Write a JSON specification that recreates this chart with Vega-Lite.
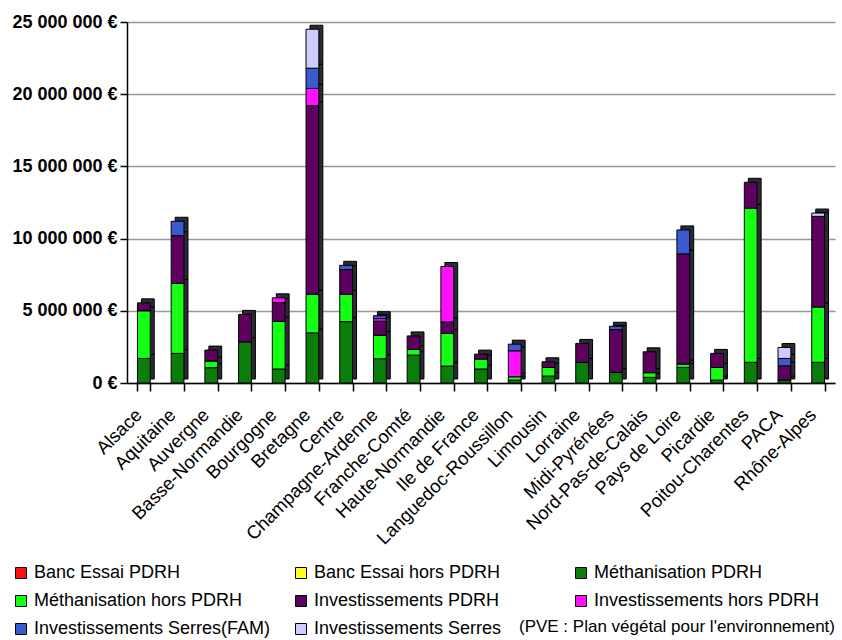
{
  "$schema": "https://vega.github.io/schema/vega-lite/v6.json",
  "autosize": {"type": "none"},
  "width": 708,
  "height": 361,
  "padding": {"left": 127, "top": 22, "right": 7, "bottom": 257},
  "background": "white",
  "config": {
    "view": {"stroke": null},
    "font": "Liberation Sans",
    "locale": {"number": {"decimal": ",", "thousands": " ", "grouping": [3], "currency": ["", " €"]}}
  },
  "title": {
    "text": "(PVE :  Plan végétal pour l'environnement)",
    "orient": "bottom",
    "anchor": "end",
    "frame": "group",
    "offset": -19,
    "fontSize": 17,
    "fontWeight": "normal",
    "font": "Liberation Sans",
    "color": "black"
  },
  "data": {"values": [
    {"region": "Alsace", "type": "Méthanisation PDRH", "value": 1700000},
    {"region": "Alsace", "type": "Méthanisation hors PDRH", "value": 3300000},
    {"region": "Alsace", "type": "Investissements PDRH", "value": 550000},
    {"region": "Aquitaine", "type": "Méthanisation PDRH", "value": 2050000},
    {"region": "Aquitaine", "type": "Méthanisation hors PDRH", "value": 4850000},
    {"region": "Aquitaine", "type": "Investissements PDRH", "value": 3300000},
    {"region": "Aquitaine", "type": "Investissements Serres(FAM)", "value": 1000000},
    {"region": "Auvergne", "type": "Méthanisation PDRH", "value": 1060000},
    {"region": "Auvergne", "type": "Méthanisation hors PDRH", "value": 460000},
    {"region": "Auvergne", "type": "Investissements PDRH", "value": 760000},
    {"region": "Basse-Normandie", "type": "Méthanisation PDRH", "value": 2850000},
    {"region": "Basse-Normandie", "type": "Investissements PDRH", "value": 1900000},
    {"region": "Bourgogne", "type": "Méthanisation PDRH", "value": 970000},
    {"region": "Bourgogne", "type": "Méthanisation hors PDRH", "value": 3300000},
    {"region": "Bourgogne", "type": "Investissements PDRH", "value": 1300000},
    {"region": "Bourgogne", "type": "Investissements hors PDRH", "value": 330000},
    {"region": "Bretagne", "type": "Méthanisation PDRH", "value": 3470000},
    {"region": "Bretagne", "type": "Méthanisation hors PDRH", "value": 2670000},
    {"region": "Bretagne", "type": "Investissements PDRH", "value": 13060000},
    {"region": "Bretagne", "type": "Investissements hors PDRH", "value": 1200000},
    {"region": "Bretagne", "type": "Investissements Serres(FAM)", "value": 1400000},
    {"region": "Bretagne", "type": "Investissements Serres", "value": 2700000},
    {"region": "Centre", "type": "Méthanisation PDRH", "value": 4250000},
    {"region": "Centre", "type": "Méthanisation hors PDRH", "value": 1900000},
    {"region": "Centre", "type": "Investissements PDRH", "value": 1700000},
    {"region": "Centre", "type": "Investissements Serres(FAM)", "value": 300000},
    {"region": "Champagne-Ardenne", "type": "Méthanisation PDRH", "value": 1680000},
    {"region": "Champagne-Ardenne", "type": "Méthanisation hors PDRH", "value": 1630000},
    {"region": "Champagne-Ardenne", "type": "Investissements PDRH", "value": 970000},
    {"region": "Champagne-Ardenne", "type": "Investissements hors PDRH", "value": 180000},
    {"region": "Champagne-Ardenne", "type": "Investissements Serres(FAM)", "value": 200000},
    {"region": "Franche-Comté", "type": "Méthanisation PDRH", "value": 1930000},
    {"region": "Franche-Comté", "type": "Méthanisation hors PDRH", "value": 390000},
    {"region": "Franche-Comté", "type": "Investissements PDRH", "value": 940000},
    {"region": "Haute-Normandie", "type": "Méthanisation PDRH", "value": 1170000},
    {"region": "Haute-Normandie", "type": "Méthanisation hors PDRH", "value": 2260000},
    {"region": "Haute-Normandie", "type": "Investissements PDRH", "value": 800000},
    {"region": "Haute-Normandie", "type": "Investissements hors PDRH", "value": 3840000},
    {"region": "Ile de France", "type": "Méthanisation PDRH", "value": 970000},
    {"region": "Ile de France", "type": "Méthanisation hors PDRH", "value": 690000},
    {"region": "Ile de France", "type": "Investissements PDRH", "value": 340000},
    {"region": "Languedoc-Roussillon", "type": "Méthanisation PDRH", "value": 200000},
    {"region": "Languedoc-Roussillon", "type": "Méthanisation hors PDRH", "value": 230000},
    {"region": "Languedoc-Roussillon", "type": "Investissements hors PDRH", "value": 1800000},
    {"region": "Languedoc-Roussillon", "type": "Investissements Serres(FAM)", "value": 460000},
    {"region": "Limousin", "type": "Méthanisation PDRH", "value": 480000},
    {"region": "Limousin", "type": "Méthanisation hors PDRH", "value": 600000},
    {"region": "Limousin", "type": "Investissements PDRH", "value": 390000},
    {"region": "Lorraine", "type": "Méthanisation PDRH", "value": 1430000},
    {"region": "Lorraine", "type": "Investissements PDRH", "value": 1310000},
    {"region": "Midi-Pyrénées", "type": "Méthanisation PDRH", "value": 740000},
    {"region": "Midi-Pyrénées", "type": "Investissements PDRH", "value": 2960000},
    {"region": "Midi-Pyrénées", "type": "Investissements Serres(FAM)", "value": 230000},
    {"region": "Nord-Pas-de-Calais", "type": "Méthanisation PDRH", "value": 390000},
    {"region": "Nord-Pas-de-Calais", "type": "Méthanisation hors PDRH", "value": 320000},
    {"region": "Nord-Pas-de-Calais", "type": "Investissements PDRH", "value": 1450000},
    {"region": "Pays de Loire", "type": "Méthanisation PDRH", "value": 1080000},
    {"region": "Pays de Loire", "type": "Méthanisation hors PDRH", "value": 230000},
    {"region": "Pays de Loire", "type": "Investissements PDRH", "value": 7630000},
    {"region": "Pays de Loire", "type": "Investissements Serres(FAM)", "value": 1660000},
    {"region": "Picardie", "type": "Méthanisation PDRH", "value": 200000},
    {"region": "Picardie", "type": "Méthanisation hors PDRH", "value": 880000},
    {"region": "Picardie", "type": "Investissements PDRH", "value": 970000},
    {"region": "Poitou-Charentes", "type": "Méthanisation PDRH", "value": 1430000},
    {"region": "Poitou-Charentes", "type": "Méthanisation hors PDRH", "value": 10670000},
    {"region": "Poitou-Charentes", "type": "Investissements PDRH", "value": 1800000},
    {"region": "PACA", "type": "Méthanisation PDRH", "value": 200000},
    {"region": "PACA", "type": "Investissements PDRH", "value": 990000},
    {"region": "PACA", "type": "Investissements Serres(FAM)", "value": 510000},
    {"region": "PACA", "type": "Investissements Serres", "value": 760000},
    {"region": "Rhône-Alpes", "type": "Méthanisation PDRH", "value": 1430000},
    {"region": "Rhône-Alpes", "type": "Méthanisation hors PDRH", "value": 3830000},
    {"region": "Rhône-Alpes", "type": "Investissements PDRH", "value": 6280000},
    {"region": "Rhône-Alpes", "type": "Investissements Serres", "value": 230000}
  ]},
  "transform": [
    {"calculate": "indexof(['Banc Essai PDRH', 'Banc Essai hors PDRH', 'Méthanisation PDRH', 'Méthanisation hors PDRH', 'Investissements PDRH', 'Investissements hors PDRH', 'Investissements Serres(FAM)', 'Investissements Serres'], datum.type)", "as": "k"}
  ],
  "encoding": {
    "x": {
      "field": "region", "type": "nominal", "sort": null,
      "scale": {"paddingInner": 0.62, "paddingOuter": 0.31},
      "axis": {
        "title": null, "labelAngle": -45, "labelFontSize": 18.5, "labelColor": "black",
        "labelFont": "Liberation Sans", "labelPadding": 14, "labelOffset": -12,
        "domainColor": "black", "domainWidth": 1.5, "tickColor": "black", "tickWidth": 1.5, "tickSize": 8,
        "tickBand": "extent", "labelLimit": 300
      }
    },
    "y": {
      "field": "value", "type": "quantitative", "stack": "zero",
      "scale": {"domain": [0, 25000000], "nice": false},
      "axis": {
        "title": null, "values": [0, 5000000, 10000000, 15000000, 20000000, 25000000],
        "format": ",d", "labelExpr": "datum.label + ' €'",
        "labelFontSize": 18, "labelFontWeight": "bold", "labelColor": "black", "labelPadding": 3,
        "domainColor": "black", "domainWidth": 1.5, "tickColor": "black", "tickWidth": 1.5, "tickSize": 7,
        "grid": true, "gridColor": "#999999", "gridWidth": 1.5
      }
    },
    "order": {"field": "k", "type": "quantitative", "sort": "ascending"},
    "color": {
      "field": "type", "type": "nominal",
      "scale": {
        "domain": ["Banc Essai PDRH", "Banc Essai hors PDRH", "Méthanisation PDRH", "Méthanisation hors PDRH", "Investissements PDRH", "Investissements hors PDRH", "Investissements Serres(FAM)", "Investissements Serres"],
        "range": ["#ff1010", "#ffff20", "#0a7d0a", "#14ff14", "#5e005e", "#ff10ff", "#3a5acd", "#ccccff"]
      },
      "legend": {
        "title": null, "orient": "none", "legendX": -115, "legendY": 542,
        "direction": "horizontal", "columns": 3, "gridAlign": "all", "columnPadding": 21, "rowPadding": 10,
        "symbolType": "square", "symbolSize": 121, "symbolStrokeColor": "black", "symbolStrokeWidth": 1,
        "labelFontSize": 18, "labelColor": "black", "labelFont": "Liberation Sans", "labelOffset": 4, "labelLimit": 400
      }
    }
  },
  "layer": [
    {
      "mark": {"type": "bar", "fill": "#2a2a35", "stroke": "black", "strokeWidth": 1, "xOffset": 4, "yOffset": -4},
      "encoding": {"color": {"value": "#2a2a35"}}
    },
    {
      "mark": {"type": "bar", "stroke": "black", "strokeWidth": 1}
    }
  ]
}
